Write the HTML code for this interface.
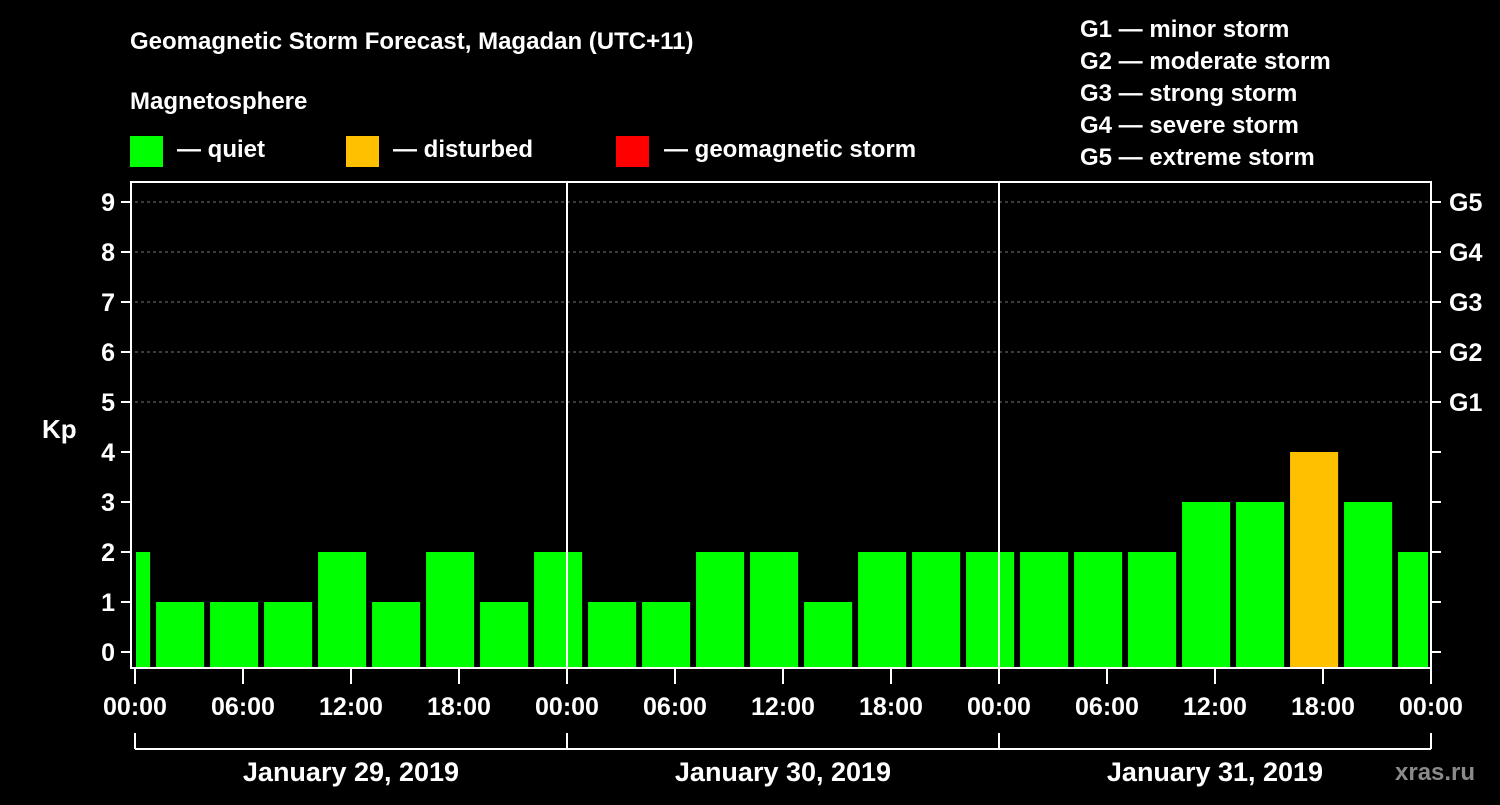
<!DOCTYPE html>
<html><head><meta charset="utf-8"><style>
body{margin:0;background:#000;width:1500px;height:800px;overflow:hidden}
svg text{font-family:"Liberation Sans",sans-serif;font-weight:bold;fill:#fff}
</style></head><body>
<svg width="1500" height="800">
<text x="130" y="49" font-size="24">Geomagnetic Storm Forecast, Magadan (UTC+11)</text>
<text x="130" y="109" font-size="24">Magnetosphere</text>
<rect x="130" y="136" width="33" height="31" fill="#00ff00"/>
<text x="177" y="157" font-size="24">— quiet</text>
<rect x="346" y="136" width="33" height="31" fill="#ffc000"/>
<text x="393" y="157" font-size="24">— disturbed</text>
<rect x="616" y="136" width="33" height="31" fill="#ff0000"/>
<text x="664" y="157" font-size="24">— geomagnetic storm</text>
<g font-size="24">
<text x="1080" y="37">G1 — minor storm</text>
<text x="1080" y="69">G2 — moderate storm</text>
<text x="1080" y="101">G3 — strong storm</text>
<text x="1080" y="133">G4 — severe storm</text>
<text x="1080" y="165">G5 — extreme storm</text>
</g>
<text x="42" y="438" font-size="26">Kp</text>
<text x="1395" y="780" font-size="24" fill="#888" style="fill:#8a8a8a">xras.ru</text>
<g id="grid"></g>
<g id="bars"></g>
<g id="axes"></g>
</svg>
<script>
const kpValues=[2,1,1,1,2,1,2,1,2,1,1,2,2,1,2,2,2,2,2,2,3,3,4,3,2];
const yTicks=[0,1,2,3,4,5,6,7,8,9];
const gLabels=["G1","G2","G3","G4","G5"];
const xLabels=["00:00","06:00","12:00","18:00","00:00","06:00","12:00","18:00","00:00","06:00","12:00","18:00","00:00"];
const dayLabels=["January 29, 2019","January 30, 2019","January 31, 2019"];
const NS="http://www.w3.org/2000/svg";
const L=135,R=1431,T=182,B=668;
const y=v=>652-50*v;
const xh=h=>L+h*(R-L)/72; // hours since start
function mk(tag,attrs,parent,txt){const e=document.createElementNS(NS,tag);for(const k in attrs)e.setAttribute(k,attrs[k]);if(txt!==undefined)e.textContent=txt;document.getElementById(parent).appendChild(e);return e;}
for(let v=5;v<=9;v++){const e=mk('line',{x1:L,x2:R,y1:y(v),y2:y(v),stroke:'#777','stroke-dasharray':'3,3'},'grid');

}
kpValues.forEach((v,i)=>{const h0=-1+3*(i-1)+2.17;let x0=xh(h0),x1=xh(h0+2.67);x0=Math.max(x0,L+1);x1=Math.min(x1,R-3);
const e=mk('rect',{x:x0,y:y(v),width:x1-x0,height:B-y(v),fill:v>=5?'#ff0000':(v>=4?'#ffc000':'#00ff00')},'bars');

});
const ax=mk('rect',{x:L-4,y:T,width:R-L+4,height:B-T,fill:'none',stroke:'#fff','stroke-width':2},'axes');


[1,2].forEach(d=>{const e=mk('line',{x1:xh(24*d),x2:xh(24*d),y1:T,y2:B,stroke:'#fff','stroke-width':2},'axes');

});
yTicks.forEach(v=>{mk('line',{x1:L-14,x2:L-4,y1:y(v),y2:y(v),stroke:'#fff','stroke-width':2},'axes');
mk('line',{x1:R,x2:R+10,y1:y(v),y2:y(v),stroke:'#fff','stroke-width':2},'axes');
const t=mk('text',{x:L-20,y:y(v)+9,'font-size':25,'text-anchor':'end'},'axes',v);

});
gLabels.forEach((g,i)=>{const t=mk('text',{x:1449,y:y(5+i)+9,'font-size':25},'axes',g);

});
xLabels.forEach((s,i)=>{const xx=xh(6*i);mk('line',{x1:xx,x2:xx,y1:B,y2:B+16,stroke:'#fff','stroke-width':2},'axes');
const t=mk('text',{x:xx,y:715,'font-size':25,'text-anchor':'middle'},'axes',s);

});
mk('line',{x1:L,x2:R,y1:749,y2:749,stroke:'#fff','stroke-width':2},'axes');
[0,1,2,3].forEach(d=>mk('line',{x1:xh(24*d),x2:xh(24*d),y1:733,y2:749,stroke:'#fff','stroke-width':2},'axes'));
dayLabels.forEach((s,i)=>{const t=mk('text',{x:xh(24*i+12),y:781,'font-size':27,'text-anchor':'middle'},'axes',s);

});
</script>
</body></html>
